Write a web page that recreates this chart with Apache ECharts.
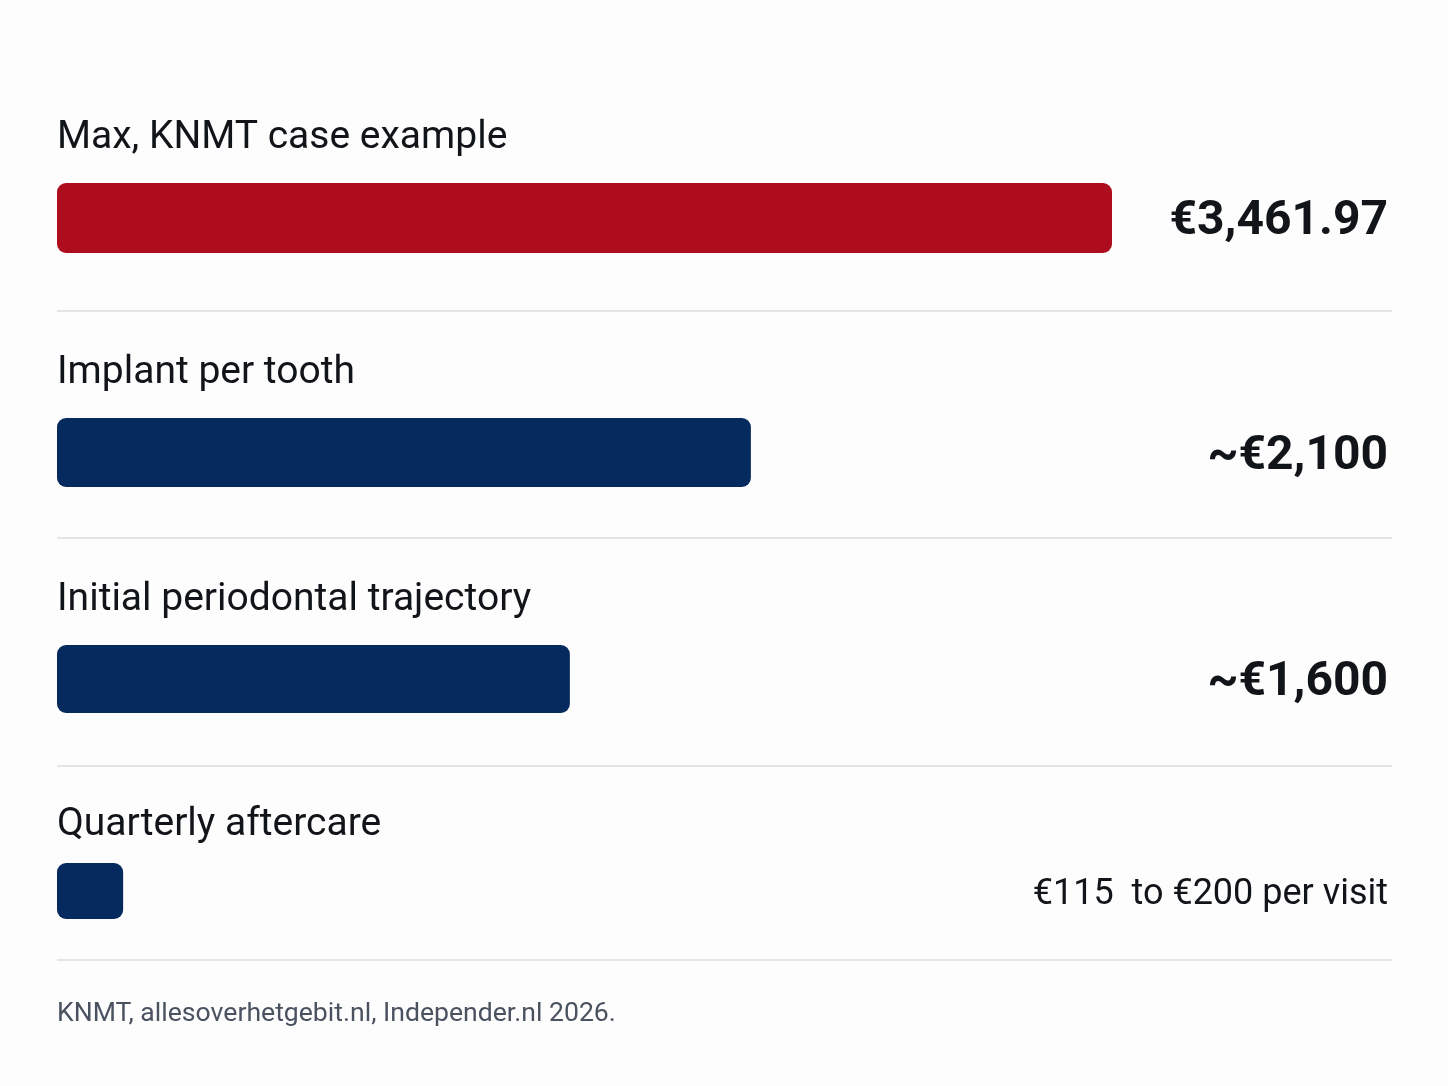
<!DOCTYPE html>
<html>
<head>
<meta charset="utf-8">
<script src="https://cdn.jsdelivr.net/npm/echarts@6/dist/echarts.min.js"></script>
<style>
    html, body { margin: 0; padding: 0; background: #fdfdfd; }
    #chart { width: 1448px; height: 1086px; }
</style>
</head>
<body>
<div id="chart"></div>
<script>
// 数据
const categories = ['Max, KNMT case example', 'Implant per tooth', 'Initial periodontal trajectory', 'Quarterly aftercare'];
// bar lengths as drawn (€)
const barValues = [3461.97, 2277, 1683, 217];
const valueLabels = ['€3,461.97', '~€2,100', '~€1,600', '€115  to €200 per visit'];
const barColors = ['#ae0d1e', '#052b5e', '#052b5e', '#052b5e'];
const sourceText = 'KNMT, allesoverhetgebit.nl, Independer.nl 2026.';

// 每一行的位置
const rows = [
    { top: 183, height: 70, labelGap: 45, big: true },
    { top: 418, height: 69, labelGap: 45, big: true },
    { top: 645, height: 68, labelGap: 45, big: true },
    { top: 863, height: 56, labelGap: 38, big: false }
];
const dividers = [311, 538, 766, 960];

const FONT = 'Roboto, "Noto Sans", sans-serif';
const gridLeft = 57;
const gridWidth = 1055;

let chart = echarts.init(document.getElementById('chart'));

const grid = [], xAxis = [], yAxis = [], series = [];
rows.forEach((r, i) => {
    grid.push({ left: gridLeft, width: gridWidth, top: r.top, height: r.height });
    xAxis.push({
        gridIndex: i, type: 'value', min: 0, max: barValues[0],
        show: false
    });
    yAxis.push({
        gridIndex: i, type: 'category', data: [valueLabels[i]], position: 'right',
        axisLine: { show: false }, axisTick: { show: false }, splitLine: { show: false },
        axisLabel: {
            margin: 276, align: 'right',
            formatter: v => '{v|' + v + '}',
            rich: {
                v: {
                    color: '#111418',
                    fontFamily: FONT,
                    fontSize: r.big ? 48 : 36,
                    fontWeight: r.big ? 'bold' : 'normal',
                    padding: [8, 0, 0, 0]
                }
            }
        }
    });
    series.push({
        type: 'bar', xAxisIndex: i, yAxisIndex: i,
        barWidth: r.height,
        data: [barValues[i]],
        itemStyle: { color: barColors[i], borderRadius: 9 },
        label: {
            show: true, position: [0, -r.labelGap],
            align: 'left', verticalAlign: 'middle',
            formatter: categories[i],
            color: '#111418', fontFamily: FONT, fontSize: 39
        },
        silent: true
    });
});

const graphic = dividers.map(y => ({
    type: 'line', silent: true,
    shape: { x1: 57, y1: y, x2: 1392, y2: y },
    style: { stroke: '#dddddd', lineWidth: 1.5 }
}));
graphic.push({
    type: 'text', left: 57, top: 1001,
    style: { text: sourceText, fill: '#4a5260', font: '26.6px ' + FONT }
});

chart.setOption({
    backgroundColor: '#fdfdfd',
    animation: false,
    grid: grid,
    xAxis: xAxis,
    yAxis: yAxis,
    series: series,
    graphic: graphic
});
</script>
</body>
</html>
